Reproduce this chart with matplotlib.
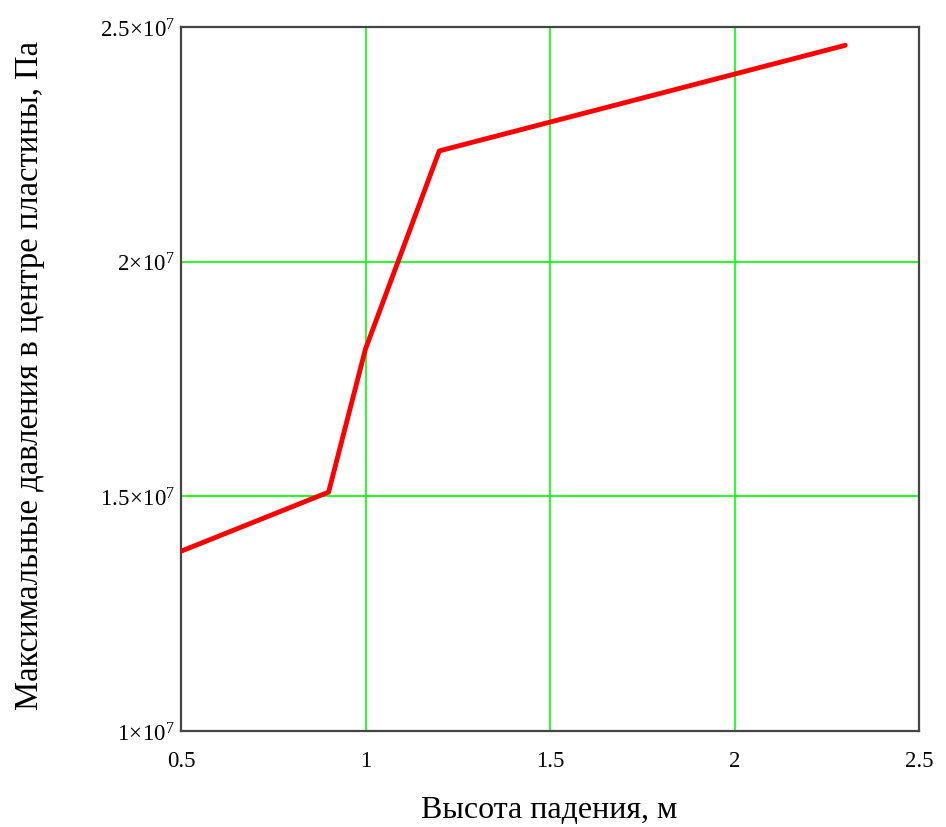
import matplotlib
matplotlib.use("Agg")
import matplotlib.pyplot as plt
from matplotlib.ticker import FuncFormatter

plt.rcParams['font.family'] = ['Liberation Serif', 'DejaVu Serif']
plt.rcParams['mathtext.fontset'] = 'custom'
plt.rcParams['mathtext.rm'] = 'Liberation Serif'
plt.rcParams['mathtext.it'] = 'Liberation Serif:italic'

# высота падения, м
height = [0.5, 0.9, 1.0, 1.2, 2.3]
# максимальное давление, Па
pressure = [1.383e7, 1.509e7, 1.814e7, 2.236e7, 2.461e7]

x_ticks = [0.5, 1, 1.5, 2, 2.5]
y_ticks = [1.0e7, 1.5e7, 2.0e7, 2.5e7]

W, H = 946, 828
fig = plt.figure(figsize=(W/100, H/100), dpi=100)
ax = fig.add_axes([181/W, 1-732/H, (919-181)/W, (732-28)/H])

ax.plot(height, pressure, color='#ff0000', lw=3.5, solid_capstyle='round', zorder=3)

ax.set_xlim(0.5, 2.5)
ax.set_ylim(1e7, 2.5e7)
ax.set_xticks(x_ticks)
ax.set_yticks(y_ticks)
ax.xaxis.set_major_formatter(FuncFormatter(lambda v, p: ('%g' % v)))
ax.yaxis.set_major_formatter(FuncFormatter(
    lambda v, p: r'$%g\!\times\!10^{7}$' % (v / 1e7)))
ax.grid(True, color='#00ff00', lw=1.2, zorder=1)
ax.tick_params(length=0, labelsize=16.5)
ax.tick_params(axis='x', pad=14)
ax.tick_params(axis='y', pad=4)

for s in ax.spines.values():
    s.set_color('#444444')
    s.set_linewidth(1.6)

# подписи осей
fig.text(549/W, 1-811/H, 'Высота падения, м', fontsize=23,
         ha='center', va='center')
fig.text(30/W, 1-376/H, 'Максимальные давления в центре пластины, Па',
         fontsize=23.5, rotation=90, ha='center', va='center')

fig.savefig('out.png', dpi=100)
